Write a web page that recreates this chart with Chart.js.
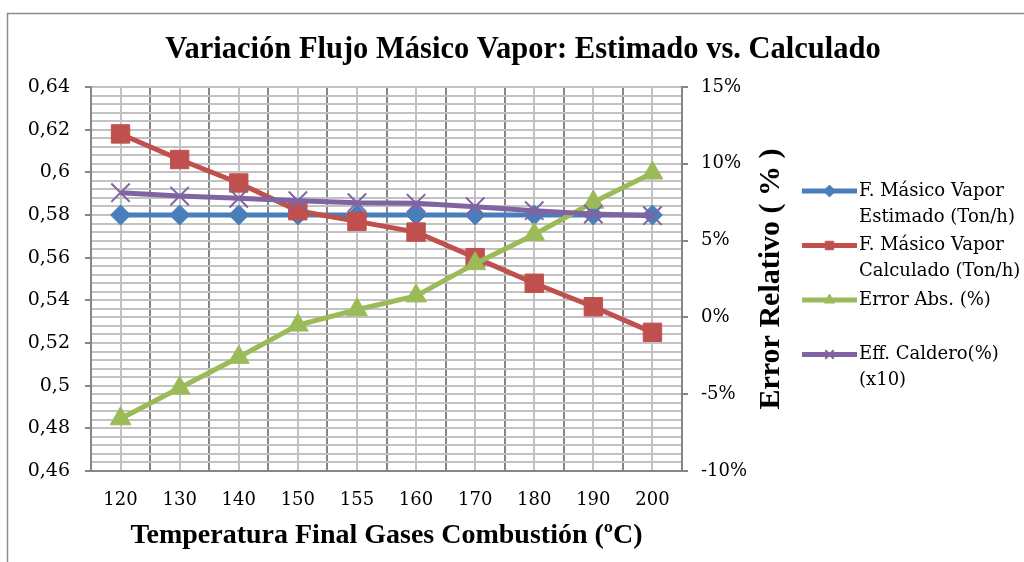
<!DOCTYPE html>
<html>
<head>
<meta charset="utf-8">
<script src="https://cdn.jsdelivr.net/npm/chart.js@4/dist/chart.umd.min.js"></script>
<style>
  html, body { margin: 0; padding: 0; background: #ffffff; }
  #wrap { position: relative; width: 1024px; height: 562px; }
</style>
</head>
<body>
<div id="wrap"><canvas id="grafico" width="1024" height="562"></canvas></div>
<script>
// Temperatura final de gases (ºC)
const temperaturas = ['120', '130', '140', '150', '155', '160', '170', '180', '190', '200'];

// Flujo másico de vapor (Ton/h) — eje izquierdo
const flujoEstimado  = [0.580, 0.580, 0.580, 0.580, 0.580, 0.580, 0.580, 0.580, 0.580, 0.580];
const flujoCalculado = [0.618, 0.606, 0.595, 0.582, 0.577, 0.572, 0.560, 0.548, 0.537, 0.525];

// Porcentajes — eje derecho
const errorAbs   = [-6.6, -4.6, -2.6, -0.5, 0.5, 1.4, 3.5, 5.4, 7.5, 9.4];
const effCaldero = [8.12, 7.90, 7.75, 7.60, 7.47, 7.43, 7.21, 6.95, 6.73, 6.62];

// Nombres de series (líneas de la leyenda)
const nombreEstimado  = ['F. Másico Vapor', 'Estimado (Ton/h)'];
const nombreCalculado = ['F. Másico Vapor', 'Calculado (Ton/h)'];
const nombreError     = ['Error Abs. (%)'];
const nombreEff       = ['Eff. Caldero(%)', '(x10)'];

const tituloGrafico = 'Variación Flujo Másico Vapor: Estimado vs. Calculado';
const tituloEjeX = 'Temperatura Final Gases Combustión (ºC)';
const tituloEjeDer = 'Error Relativo ( % )';

const AZUL = '#4A7EBB', ROJO = '#C0504D', VERDE = '#9BBB59', MORADO = '#8064A2';
const GRIS_MAYOR = '#868686', GRIS_MENOR = '#c2c2c2';
const SERIF = "'DejaVu Serif', serif";
const SERIF_TIT = "'Liberation Serif', serif";

Chart.defaults.font.family = SERIF;
Chart.defaults.color = '#000000';

function fmtComa(v) {
  return String(+v.toFixed(2)).replace('.', ',');
}

// Marco exterior, título del eje derecho y leyenda con texto en dos líneas
const decorado = {
  id: 'decorado',
  beforeDraw(chart) {
    const ctx = chart.ctx;
    ctx.save();
    ctx.fillStyle = '#ffffff';
    ctx.fillRect(0, 0, chart.width, chart.height);
    ctx.strokeStyle = '#8c8c8c';
    ctx.lineWidth = 1.5;
    ctx.strokeRect(7.5, 13.5, 1200, 700);
    ctx.restore();
  },
  afterDraw(chart) {
    const ctx = chart.ctx;
    const area = chart.chartArea;
    ctx.save();
    // título del eje derecho, leído de abajo hacia arriba
    ctx.translate(771, (area.top + area.bottom) / 2);
    ctx.rotate(-Math.PI / 2);
    ctx.font = "bold 30px " + SERIF_TIT;
    ctx.fillStyle = '#000';
    ctx.textAlign = 'center';
    ctx.textBaseline = 'middle';
    ctx.fillText(tituloEjeDer, 0, 0);
    ctx.restore();

    // leyenda
    ctx.save();
    const x0 = 802, x1 = 857, y0 = 191, paso = 54.5, interl = 26;
    chart.data.datasets.forEach((ds, i) => {
      const y = y0 + i * paso;
      ctx.strokeStyle = ds.borderColor;
      ctx.lineWidth = 5;
      ctx.lineCap = 'butt';
      ctx.beginPath();
      ctx.moveTo(x0, y);
      ctx.lineTo(x1, y);
      ctx.stroke();
      ctx.fillStyle = ds.pointBackgroundColor;
      ctx.strokeStyle = ds.pointBorderColor;
      ctx.lineWidth = ds.pointBorderWidth;
      Chart.helpers.drawPoint(ctx, {
        pointStyle: ds.pointStyle,
        radius: ds.legendRadius,
        rotation: 0,
        borderWidth: ds.pointBorderWidth
      }, (x0 + x1) / 2, y);
      ctx.font = "18px " + SERIF;
      ctx.fillStyle = '#000';
      ctx.textAlign = 'left';
      ctx.textBaseline = 'middle';
      ds.label.forEach((linea, k) => ctx.fillText(linea, x1 + 2, y + k * interl));
    });
    ctx.restore();
  }
};

function serie(label, data, color, estilo, radio, eje, orden, extra) {
  return Object.assign({
    label: label,
    data: data,
    yAxisID: eje,
    xAxisID: 'x',
    borderColor: color,
    backgroundColor: color,
    pointBackgroundColor: color,
    pointBorderColor: color,
    borderWidth: 5,
    pointStyle: estilo,
    pointRadius: radio,
    pointHoverRadius: radio,
    pointBorderWidth: 1,
    legendRadius: 6,
    tension: 0,
    order: orden
  }, extra || {});
}

new Chart(document.getElementById('grafico'), {
  type: 'line',
  data: {
    labels: temperaturas,
    datasets: [
      serie(nombreEstimado, flujoEstimado, AZUL, 'rectRot', 10, 'y', 4),
      serie(nombreCalculado, flujoCalculado, ROJO, 'rect', 13, 'y', 3),
      serie(nombreError, errorAbs, VERDE, 'triangle', 12, 'y1', 2),
      serie(nombreEff, effCaldero, MORADO, 'crossRot', 13, 'y1', 1, { pointBorderWidth: 2 })
    ]
  },
  plugins: [decorado],
  options: {
    responsive: false,
    animation: false,
    layout: { padding: { left: 22, right: 0, top: 0, bottom: 0 } },
    plugins: {
      legend: { display: false },
      tooltip: { enabled: false },
      title: {
        display: true,
        text: tituloGrafico,
        font: { family: SERIF_TIT, size: 30.5, weight: 'bold' },
        color: '#000',
        padding: { top: 32, bottom: 18.4 }
      }
    },
    scales: {
      x: {
        type: 'category',
        position: 'bottom',
        offset: true,
        grid: { offset: true, color: GRIS_MAYOR, lineWidth: 2, drawTicks: false },
        border: { display: true, color: GRIS_MAYOR, width: 2 },
        ticks: { font: { size: 18 }, padding: 19, color: '#000' },
        title: {
          display: true,
          text: tituloEjeX,
          font: { family: SERIF_TIT, size: 28, weight: 'bold' },
          color: '#000',
          padding: { top: 0, bottom: 9 }
        },
        afterFit(s) { s.height = 91; }
      },
      xMenor: {
        type: 'category',
        position: 'bottom',
        offset: true,
        z: -1,
        grid: { offset: false, color: GRIS_MENOR, lineWidth: 2, drawTicks: false },
        border: { display: false },
        ticks: { display: false },
        afterFit(s) { s.height = 0; }
      },
      y: {
        type: 'linear',
        position: 'left',
        min: 0.46,
        max: 0.64,
        grid: { color: GRIS_MAYOR, lineWidth: 2, tickLength: 6, tickColor: GRIS_MAYOR },
        border: { display: true, color: GRIS_MAYOR, width: 2 },
        ticks: { stepSize: 0.02, font: { size: 19 }, padding: 15, color: '#000', callback: v => fmtComa(v) },
        afterFit(s) { s.width = 69; }
      },
      yMenor: {
        type: 'linear',
        position: 'left',
        min: 0.46,
        max: 0.64,
        z: -1,
        grid: { color: GRIS_MENOR, lineWidth: 2, drawTicks: false },
        border: { display: false },
        ticks: { display: false, stepSize: 0.004 },
        afterFit(s) { s.width = 0; }
      },
      y1: {
        type: 'linear',
        position: 'right',
        min: -10,
        max: 15,
        grid: { drawOnChartArea: false, tickLength: 6, color: GRIS_MAYOR, lineWidth: 2 },
        border: { display: true, color: GRIS_MAYOR, width: 2 },
        ticks: { stepSize: 5, font: { size: 18 }, padding: 13, color: '#000', callback: v => v + '%' },
        afterFit(s) { s.width = 342; }
      }
    }
  }
});
</script>
</body>
</html>
